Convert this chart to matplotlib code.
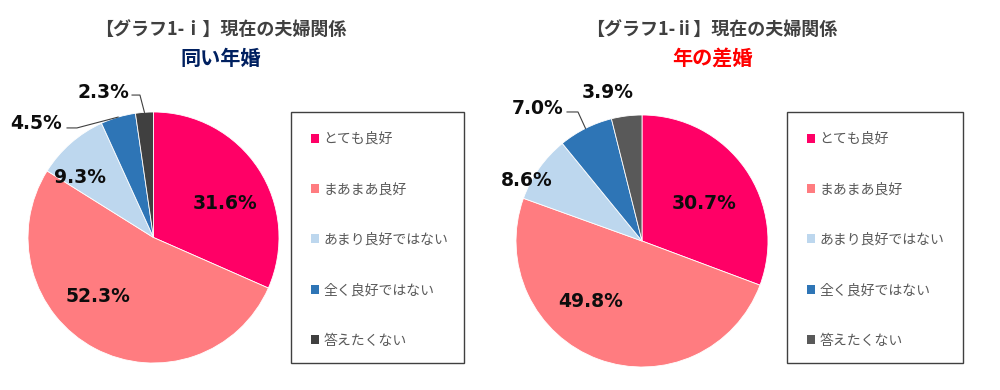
import numpy as np
import matplotlib.pyplot as plt
from matplotlib.patches import Rectangle

# データ
categories = ['とても良好', 'まあまあ良好', 'あまり良好ではない', '全く良好ではない', '答えたくない']
vals_same = [31.6, 52.3, 9.3, 4.5, 2.3]     # 同い年婚
vals_diff = [30.7, 49.8, 8.6, 7.0, 3.9]     # 年の差婚
titles = ['【グラフ1-ⅰ】現在の夫婦関係', '【グラフ1-ⅱ】現在の夫婦関係']
subtitles = ['同い年婚', '年の差婚']

colors1 = ['#FF0066', '#FF7C80', '#BDD7EE', '#2E75B6', '#404040']
colors2 = ['#FF0066', '#FF7C80', '#BDD7EE', '#2E75B6', '#595959']

cjk = ['Noto Sans CJK JP', 'DejaVu Sans']

fig = plt.figure(figsize=(10, 3.9), dpi=100)

def px(x, y):
    return x / 1000, 1 - y / 390

def draw_pie(rect, vals, colors, label_pos, leaders):
    ax = fig.add_axes(rect)
    wedges, _ = ax.pie(vals, colors=colors, startangle=90, counterclock=False,
                       radius=1, wedgeprops=dict(edgecolor='white', linewidth=0.6))
    ax.set_xlim(-1, 1)
    ax.set_ylim(-1, 1)
    ax.set_aspect('equal')
    ax.axis('off')
    for v, (x, y) in zip(vals, label_pos):
        ax.text(x, y, f'{v:.1f}%', ha='center', va='center', fontsize=13.5,
                fontweight='bold', color='#0D0D0D', family='DejaVu Sans', clip_on=False)
    # 引き出し線
    for i, (sx, ex, yy) in leaders.items():
        w = wedges[i]
        mid = np.deg2rad((w.theta1 + w.theta2) / 2)
        ax.plot([sx, ex, np.cos(mid)], [yy, yy, np.sin(mid)], color='#404040',
                lw=0.8, clip_on=False)
    return ax, wedges

ax1, w1 = draw_pie([0.028, 27 / 390, 0.251, 251 / 390], vals_same, colors1,
                   [(0.574, 0.267), (-0.446, -0.474), (-0.586, 0.482), (-0.936, 0.912), (-0.402, 1.159)],
                   {3: (-0.689, -0.610, 0.873), 4: (-0.171, -0.108, 1.135)})
ax2, w2 = draw_pie([0.516, 23 / 390, 0.252, 252 / 390], vals_diff, colors2,
                   [(0.492, 0.294), (-0.405, -0.484), (-0.913, 0.484), (-0.825, 1.048), (-0.270, 1.175)],
                   {3: (-0.595, -0.508, 1.024)})

# タイトル
for (tx, sx, scol), t, s in zip([(221, 221, '#002060'), (712, 712, '#FF0000')], titles, subtitles):
    fig.text(*px(tx, 29), t, ha='center', va='center', fontsize=13, fontweight='bold',
             color='#404040', family=cjk)
    fig.text(*px(sx, 58), s, ha='center', va='center', fontsize=14.5, fontweight='bold',
             color=scol, family=cjk)

# 凡例（枠は別に描く）
for wedges, box, anchor in [(w1, (291, 112, 464, 363), (311, 132)), (w2, (787, 112, 963, 363), (807, 132))]:
    x0, y0, x1, y1 = box
    fig.add_artist(Rectangle(px(x0, y1), (x1 - x0) / 1000, (y1 - y0) / 390, transform=fig.transFigure,
                             fill=False, edgecolor='#404040', lw=1))
    leg = fig.legend(wedges, categories, loc='upper left', bbox_to_anchor=px(*anchor),
                     frameon=False, borderpad=0, borderaxespad=0, handlelength=0.6, handleheight=0.6,
                     handletextpad=0.3, labelspacing=2.62, prop={'family': cjk, 'size': 10})
    for t in leg.get_texts():
        t.set_color('#595959')
    for h in leg.legend_handles:
        h.set_edgecolor('none')

fig.savefig('out.png', dpi=100)
